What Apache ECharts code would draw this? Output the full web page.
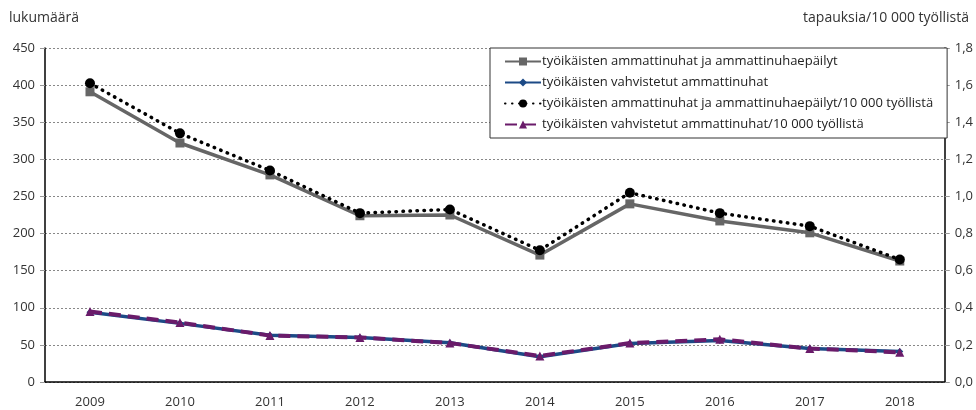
<!DOCTYPE html>
<html>
<head>
<meta charset="utf-8">
<script src="https://cdn.jsdelivr.net/npm/echarts@6/dist/echarts.min.js"></script>
<style>
  html, body { margin: 0; padding: 0; background: #fff; }
  #chart { width: 976px; height: 410px; }
</style>
</head>
<body>
<div id="chart"></div>
<script>
// vuodet
const years = ['2009', '2010', '2011', '2012', '2013', '2014', '2015', '2016', '2017', '2018'];

// lukumäärät (vasen akseli)
const suspected = [391, 322, 279, 224, 225, 171, 240, 217, 201, 163];
const confirmed = [94, 79, 63, 60, 53, 34, 52, 56, 45, 41];

// tapauksia / 10 000 työllistä (oikea akseli)
const suspectedRate = [1.61, 1.34, 1.14, 0.91, 0.93, 0.71, 1.02, 0.91, 0.84, 0.66];
const confirmedRate = [0.38, 0.32, 0.25, 0.24, 0.21, 0.14, 0.21, 0.23, 0.18, 0.16];

const names = [
  'työikäisten ammattinuhat ja ammattinuhaepäilyt',
  'työikäisten vahvistetut ammattinuhat',
  'työikäisten ammattinuhat ja ammattinuhaepäilyt/10 000 työllistä',
  'työikäisten vahvistetut ammattinuhat/10 000 työllistä'
];

const font = '"Open Sans", "Noto Sans", sans-serif';

const chart = echarts.init(document.getElementById('chart'));

const option = {
  animation: false,
  textStyle: { fontFamily: font },
  title: [
    { text: 'lukumäärä', left: 4, top: 6, textStyle: { fontSize: 14, fontWeight: 'normal', color: '#333', fontFamily: font } },
    { text: 'tapauksia/10 000 työllistä', right: 2, top: 6, textStyle: { fontSize: 14, fontWeight: 'normal', color: '#333', fontFamily: font } }
  ],
  grid: { left: 45, right: 31, top: 48, bottom: 28 },
  legend: {
    orient: 'vertical',
    left: 490,
    top: 48,
    padding: [7, 14, 7, 14],
    itemGap: 8,
    itemWidth: 36,
    itemHeight: 10,
    backgroundColor: '#fff',
    borderColor: '#333',
    borderWidth: 1,
    textStyle: { fontSize: 13, color: '#222', fontFamily: font, padding: [0, 0, 0, -4] },
    data: names
  },
  xAxis: {
    type: 'category',
    data: years,
    boundaryGap: true,
    axisLine: { lineStyle: { color: '#000', width: 1.5 } },
    axisTick: { show: false },
    axisLabel: { fontSize: 13, color: '#333', margin: 14 }
  },
  yAxis: [
    {
      type: 'value',
      min: 0, max: 450, interval: 50,
      axisLine: { show: true, lineStyle: { color: '#000', width: 1.5 } },
      axisTick: { show: true, length: 5, lineStyle: { color: '#999' } },
      axisLabel: { fontSize: 13, color: '#333', margin: 10 },
      splitLine: { lineStyle: { color: '#888', type: [2, 2], width: 1 } }
    },
    {
      type: 'value',
      min: 0, max: 1.8, interval: 0.2,
      axisLine: { show: true, lineStyle: { color: '#000', width: 1.5 } },
      axisTick: { show: true, length: 5, lineStyle: { color: '#999' } },
      axisLabel: { fontSize: 13, color: '#333', margin: 10, formatter: v => v.toFixed(1).replace('.', ',') },
      splitLine: { show: false }
    }
  ],
  series: [
    {
      name: names[0], type: 'line', yAxisIndex: 0, data: suspected,
      symbol: 'rect', symbolSize: 9,
      itemStyle: { color: '#666' },
      lineStyle: { color: '#666', width: 3.5 },
      z: 2
    },
    {
      name: names[1], type: 'line', yAxisIndex: 0, data: confirmed,
      symbol: 'diamond', symbolSize: 7,
      itemStyle: { color: '#1c4a86' },
      lineStyle: { color: '#1c4a86', width: 3.5 },
      z: 2
    },
    {
      name: names[2], type: 'line', yAxisIndex: 1, data: suspectedRate,
      symbol: 'circle', symbolSize: 10,
      itemStyle: { color: '#000' },
      lineStyle: { color: '#000', width: 3.5, type: [0.5, 6.5], cap: 'round' },
      z: 3
    },
    {
      name: names[3], type: 'line', yAxisIndex: 1, data: confirmedRate,
      symbol: 'triangle', symbolSize: 9,
      itemStyle: { color: '#6a1b6a' },
      lineStyle: { color: '#6a1b6a', width: 4, type: [12, 7] },
      z: 3
    }
  ]
};

chart.setOption(option);
</script>
</body>
</html>
